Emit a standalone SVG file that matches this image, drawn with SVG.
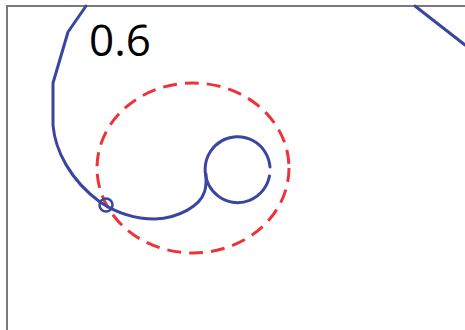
<svg xmlns="http://www.w3.org/2000/svg" width="465" height="330" viewBox="0 0 465 330">
<style>
.frame{fill:none;stroke:#7a7a7a;stroke-width:2}
.blue{fill:none;stroke:#3a45a0;stroke-width:3;stroke-linecap:round;stroke-linejoin:round}
.red{fill:none;stroke:#ee3338;stroke-width:3;stroke-dasharray:14 8}
.lbl{font-family:"Open Sans","Liberation Sans",sans-serif;font-size:44px;fill:#000}
</style>
<rect class="frame" x="7" y="6" width="470" height="340" fill="#fff"/>
<g id="red-circle">
<ellipse class="red" cx="193" cy="168" rx="96" ry="85"/>
</g>
<g id="curve">
<path class="blue" d="M86,6 L68,32 L53,83 L53,125 C55,150 70,180 100,202 C115,212 135,219 155,219 C180,218 200,205 204,193 C207,186 206,180 206,174"/>
<path class="blue" d="M269.5,176 A32.5,33 0 1 1 270,167"/>
<circle class="blue" cx="106" cy="205" r="6.5" style="stroke-width:2.5"/>
<path class="blue" d="M415,6 L465,45"/>
</g>
<text class="lbl" x="89" y="56">0.6</text>
</svg>
